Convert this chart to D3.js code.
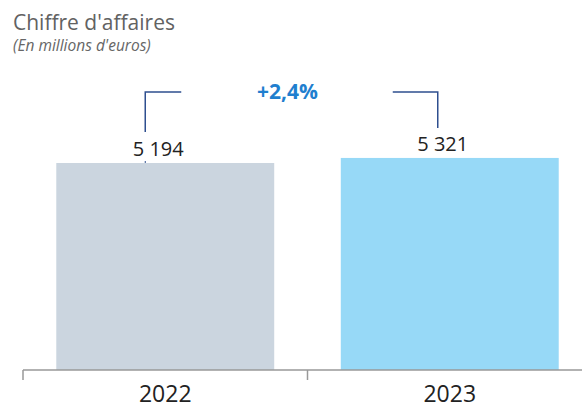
<!DOCTYPE html>
<html>
<head>
<meta charset="utf-8">
<script src="https://cdn.jsdelivr.net/npm/d3@7"></script>
<style>
  body { margin: 0; background: #fff; }
  text { font-family: "Open Sans", sans-serif; }
</style>
</head>
<body>
<div id="chart"></div>
<script>
// data
var years = ["2022", "2023"];
var revenue = [5194, 5321];
var growthLabel = "+2,4%";
var barColors = ["#cbd5df", "#97d9f7"];

var W = 582, H = 408;
var axisY = 370;

var svg = d3.select("#chart").append("svg")
  .attr("width", W)
  .attr("height", H);

var x = d3.scaleBand()
  .domain(years)
  .range([23, 592])
  .paddingInner(0.234)
  .paddingOuter(0.117);

var y = d3.scaleLinear()
  .domain([0, 9284])
  .range([axisY, 0]);

// title
svg.append("text")
  .attr("x", 13)
  .attr("y", 30)
  .style("font-size", "21px")
  .attr("fill", "#626262")
  .text("Chiffre d'affaires");

svg.append("text")
  .attr("x", 13)
  .attr("y", 51)
  .style("font-size", "15.5px")
  .style("font-style", "italic")
  .attr("fill", "#666")
  .text("(En millions d'euros)");

// bars
svg.selectAll("rect.bar")
  .data(revenue)
  .enter().append("rect")
  .attr("class", "bar")
  .attr("x", (d, i) => x(years[i]))
  .attr("y", d => y(d))
  .attr("width", x.bandwidth())
  .attr("height", d => axisY - y(d))
  .attr("fill", (d, i) => barColors[i]);

// value labels
svg.selectAll("text.val")
  .data(revenue)
  .enter().append("text")
  .attr("class", "val")
  .attr("x", (d, i) => x(years[i]) + x.bandwidth() / 2 - 7)
  .attr("y", d => y(d) - 7)
  .attr("text-anchor", "middle")
  .style("font-size", "20px")
  .attr("fill", "#222")
  .text(d => d3.format(",")(d).replace(",", " "));

// axis
var axis = svg.append("g")
  .attr("transform", `translate(0,${axisY})`);
axis.append("line")
  .attr("x1", 23).attr("x2", W)
  .attr("stroke", "#999").attr("stroke-width", 1.5);
axis.selectAll("line.tick")
  .data([x.range()[0], x.range()[0] + x.step()])
  .enter().append("line")
  .attr("class", "tick")
  .attr("x1", d => d).attr("x2", d => d)
  .attr("y1", 0).attr("y2", 10)
  .attr("stroke", "#999").attr("stroke-width", 1.5);
axis.selectAll("text")
  .data(years)
  .enter().append("text")
  .attr("x", d => x(d) + x.bandwidth() / 2)
  .attr("y", 32)
  .attr("text-anchor", "middle")
  .style("font-size", "23px")
  .attr("fill", "#222")
  .text(d => d);

// growth bracket
var bx0 = x(years[0]) + x.bandwidth() / 2 - 20;
var bx1 = x(years[1]) + x.bandwidth() / 2 - 12;
var topY = 92;
svg.append("path")
  .attr("d", `M${bx0},${y(revenue[0]) - 31}V${topY}H${bx0 + 36}`)
  .attr("fill", "none")
  .attr("stroke", "#2e4f8f")
  .attr("stroke-width", 1.5);
svg.append("path")
  .attr("d", `M${bx1 - 45},${topY}H${bx1}V${y(revenue[1]) - 30}`)
  .attr("fill", "none")
  .attr("stroke", "#2e4f8f")
  .attr("stroke-width", 1.5);
svg.append("line")
  .attr("x1", bx0).attr("x2", bx0)
  .attr("y1", y(revenue[0]) - 2).attr("y2", y(revenue[0]))
  .attr("stroke", "#2e4f8f");

svg.append("text")
  .attr("x", (x(years[0]) + x(years[1]) + x.bandwidth()) / 2 - 20)
  .attr("y", 99)
  .attr("text-anchor", "middle")
  .style("font-size", "21px")
  .style("font-weight", "bold")
  .attr("fill", "#1f7fcf")
  .text(growthLabel);
</script>
</body>
</html>
